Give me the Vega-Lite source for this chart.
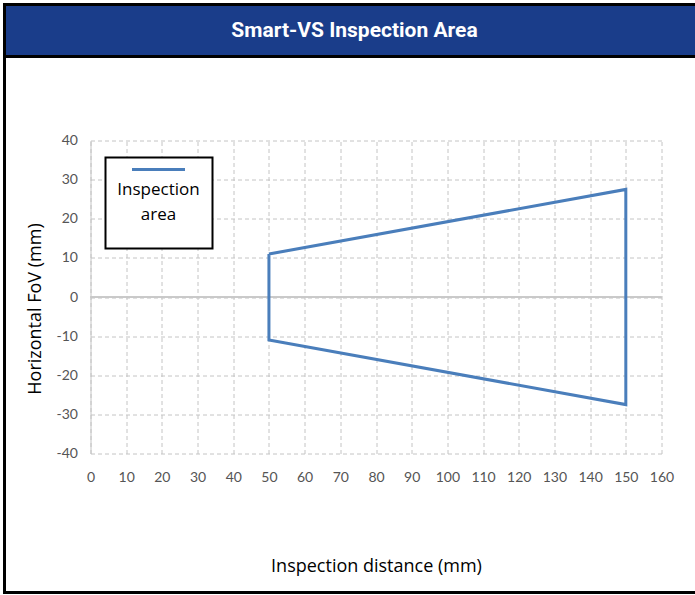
{
  "$schema": "https://vega.github.io/schema/vega-lite/v6.json",
  "background": "white",
  "padding": {"left": 2.5, "top": 2.5, "right": 0, "bottom": 0},
  "spacing": 0,
  "bounds": "flush",
  "config": {"view": {"stroke": null}},
  "resolve": {"scale": {"color": "independent"}, "legend": {"color": "independent"}},
  "vconcat": [
    {
      "width": 730,
      "height": 52,
      "data": {"values": [{"label": "Smart-VS Inspection Area"}]},
      "layer": [
        {"mark": {"type": "rect", "fill": "#1a3d8a", "stroke": "black", "strokeWidth": 3}, "encoding": {}},
        {"mark": {"type": "text", "font": "Roboto", "fontSize": 21, "fontWeight": "bold", "color": "white", "dx": -15}, "encoding": {"text": {"field": "label"}}}
      ]
    },
    {
      "width": 730,
      "height": 536,
      "view": {"stroke": "black", "strokeWidth": 3, "fill": "white"},
      "resolve": {"axis": {"x": "independent"}},
      "data": {"values": [
        {"distance": 50, "fov": 11, "order": 1, "series": "Inspection area"},
        {"distance": 150, "fov": 27.5, "order": 2, "series": "Inspection area"},
        {"distance": 150, "fov": -27.5, "order": 3, "series": "Inspection area"},
        {"distance": 50, "fov": -11, "order": 4, "series": "Inspection area"},
        {"distance": 50, "fov": 11, "order": 5, "series": "Inspection area"}
      ]},
      "layer": [
        {
          "mark": {"type": "rule", "color": "#c8c8c8", "strokeWidth": 1},
          "encoding": {
            "x": {
              "datum": 0, "type": "quantitative",
              "scale": {"domain": [0, 160], "nice": false, "zero": false, "range": [86, 657]},
              "axis": {
                "orient": "top", "offset": -84, "title": null,
                "values": [0, 10, 20, 30, 40, 50, 60, 70, 80, 90, 100, 110, 120, 130, 140, 150, 160],
                "labels": false, "domain": false, "ticks": false,
                "grid": true, "gridColor": "#c4c4c4", "gridDash": [4, 3], "gridWidth": 1
              }
            },
            "x2": {"datum": 160},
            "y": {"datum": 0, "type": "quantitative"}
          }
        },
        {
          "mark": {"type": "line", "strokeWidth": 3, "strokeJoin": "miter"},
          "encoding": {
            "x": {
              "field": "distance", "type": "quantitative",
              "scale": {"domain": [0, 160], "nice": false, "zero": false, "range": [86, 657]},
              "axis": {
                "orient": "bottom",
                "title": "Inspection distance (mm)",
                "offset": -139,
                "values": [0, 10, 20, 30, 40, 50, 60, 70, 80, 90, 100, 110, 120, 130, 140, 150, 160],
                "labelOverlap": false, "labelFlush": false,
                "domain": false, "ticks": false, "grid": false,
                "labelFont": "Lato", "labelFontSize": 14, "labelColor": "#555555", "labelPadding": 17,
                "titleFont": "Open Sans", "titleFontSize": 18, "titleFontWeight": "normal", "titleColor": "black", "titlePadding": 73
              }
            },
            "y": {
              "field": "fov", "type": "quantitative",
              "scale": {"domain": [-40, 40], "nice": false, "zero": false, "range": [397, 84]},
              "axis": {
                "title": "Horizontal FoV (mm)",
                "offset": -86,
                "values": [-40, -30, -20, -10, 0, 10, 20, 30, 40],
                "labelExpr": "'' + datum.value",
                "labelOverlap": false,
                "domain": true, "domainColor": "#c4c4c4", "ticks": false,
                "grid": true, "gridColor": "#c4c4c4", "gridDash": [4, 3], "gridWidth": 1,
                "labelFont": "Lato", "labelFontSize": 14, "labelColor": "#555555", "labelPadding": 13,
                "titleFont": "Open Sans", "titleFontSize": 18, "titleFontWeight": "normal", "titleColor": "black", "titlePadding": 12,
                "titleY": 252
              }
            },
            "order": {"field": "order", "type": "quantitative"},
            "color": {
              "field": "series", "type": "nominal",
              "scale": {"range": ["#4a7ebb"]},
              "legend": {
                "orient": "none", "legendX": 101, "legendY": 101,
                "title": ["Inspection", "area"],
                "titleOrient": "bottom", "titleAnchor": "middle", "titleAlign": "center",
                "titleFont": "Open Sans", "titleFontSize": 17, "titleFontWeight": "normal", "titleColor": "black", "titleLineHeight": 25,
                "titlePadding": -54.5,
                "labelExpr": "' '", "labelFontSize": 1, "labelOffset": 0,
                "symbolType": "stroke", "symbolSize": 2809, "symbolStrokeWidth": 3, "symbolOffset": 5,
                "strokeColor": "black", "fillColor": "white", "padding": 12,
                "encode": {
                  "symbols": {"update": {"stroke": {"value": "#1ba1e2"}, "y": {"value": 0}}},
                  "labels": {"update": {"y": {"value": 66.5}}},
                  "legend": {"update": {"strokeWidth": {"value": 2}}}
                }
              }
            }
          }
        }
      ]
    }
  ]
}
